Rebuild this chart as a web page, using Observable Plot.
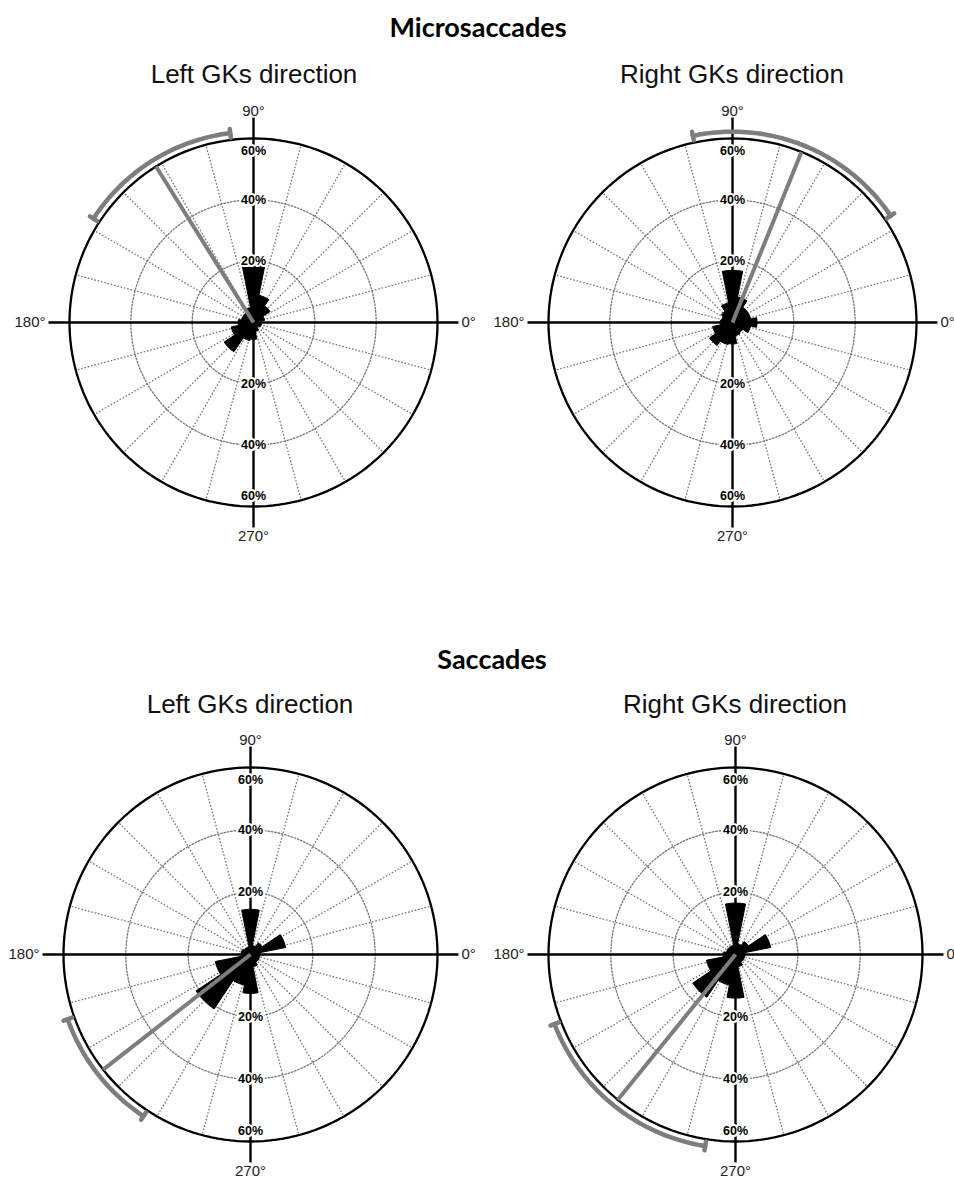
<!DOCTYPE html>
<html><head><meta charset="utf-8">
<script src="https://cdn.jsdelivr.net/npm/d3@7"></script>
<script src="https://cdn.jsdelivr.net/npm/@observablehq/plot@0.6"></script>
<style>
body{margin:0;background:#fff;}
#fig{position:relative;width:954px;height:1182px;overflow:hidden;background:#fff;}
.title{position:absolute;width:400px;text-align:center;font-family:Lato,sans-serif;font-weight:700;font-size:27px;line-height:1;color:#000;white-space:nowrap;}
.sub{position:absolute;width:400px;text-align:center;font-family:"Liberation Sans",Arial,sans-serif;font-size:26px;line-height:1;color:#111;white-space:nowrap;}
</style></head><body><div id="fig"></div>
<script>
// ---- data ----
const binAngles = [0, 22.5, 45, 67.5, 90, 112.5, 135, 157.5, 180, 202.5, 225, 247.5, 270, 292.5, 315, 337.5];
const microLeft  = [2.2, 3.7, 6.5, 9, 21.3, 5, 4, 4, 5, 7.4, 11.5, 6, 5.5, 3, 2, 2.6];
const microRight = [8, 6, 6, 8.5, 17, 6.5, 4.4, 3.6, 4, 6.6, 9, 7.3, 7, 4.4, 4, 6];
const saccLeft   = [3, 11.5, 4.5, 3, 14.5, 2.5, 2.5, 3, 3, 11.5, 21, 10, 12.5, 4, 3, 3];
const saccRight  = [3, 11.5, 5, 3.5, 16.5, 3, 3, 3, 4, 9.5, 16.5, 10, 14, 4, 3, 3];
const meanDirections = [122, 68, 218, 231];   // degrees
const meanSpreads    = [25, 34, 18.5, 30];    // half-width of arc, degrees
const groupTitles = ["Microsaccades", "Saccades"];
const panelTitles = ["Left GKs direction", "Right GKs direction"];
const radialTicks = [20, 40, 60];
const angleTicks = [0, 90, 180, 270];
const spokeStep = 15;

const fig = document.getElementById("fig");
const rad = a => a * Math.PI / 180;

function addText(cls, text, centerX, top) {
  const d = document.createElement("div");
  d.className = cls;
  d.textContent = text;
  d.style.left = (centerX - 200) + "px";
  d.style.top = top + "px";
  fig.appendChild(d);
}

function panel({values, mean, spread, cx, cy, r, top, bottom}) {
  const R = radialTicks[radialTicks.length - 1];
  const k = r / R;              // px per percent
  const W = 480, left = cx - W / 2, H = bottom - top;
  const circle = v => d3.range(0, 361, 2).map(a => ({x: v * Math.cos(rad(a)), y: v * Math.sin(rad(a))}));
  const gridCircles = radialTicks.slice(0, -1).flatMap(v => circle(v).map(p => ({...p, v})));
  const spokes = d3.range(0, 360, spokeStep).filter(a => a % 90 !== 0)
    .map(a => ({x2: R * Math.cos(rad(a)), y2: R * Math.sin(rad(a))}));
  const half = 360 / binAngles.length / 2;
  const wedges = values.flatMap((v, i) => {
    const pts = [{bin: i, x: 0, y: 0}];
    for (let j = 0; j <= 8; j++) {
      const a = rad(binAngles[i] - half + 2 * half * j / 8);
      pts.push({bin: i, x: v * Math.cos(a), y: v * Math.sin(a)});
    }
    pts.push({bin: i, x: 0, y: 0});
    return pts;
  });
  const arcR = R * 1.037;
  const arc = d3.range(mean - spread, mean + spread + 0.001, 1).map(a => ({x: arcR * Math.cos(rad(a)), y: arcR * Math.sin(rad(a))}));
  const caps = [mean - spread, mean + spread].map(a => ({
    x1: R * 1.012 * Math.cos(rad(a)), y1: R * 1.012 * Math.sin(rad(a)),
    x2: R * 1.06 * Math.cos(rad(a)), y2: R * 1.06 * Math.sin(rad(a))}));
  const ext = 21 / k;
  const lab = 24 / k;
  const tickLabels = angleTicks.map(a => ({a, t: a + "°"}));
  const rl = radialTicks.slice(0, -1).flatMap(v => [{y: v, t: v + "%"}, {y: -v, t: v + "%"}]);
  const font = "Liberation Sans, Arial, sans-serif";
  const svg = Plot.plot({
    width: W, height: H, margin: 0,
    x: {domain: [-(cx - left) / k, (left + W - cx) / k], axis: null},
    y: {domain: [-(bottom - cy) / k, (cy - top) / k], axis: null},
    style: {overflow: "visible", background: "transparent"},
    marks: [
      Plot.link(spokes, {x1: 0, y1: 0, x2: "x2", y2: "y2", stroke: "#777", strokeWidth: 1.3, strokeDasharray: "1.6,1.8"}),
      Plot.line(gridCircles, {x: "x", y: "y", z: "v", stroke: "#777", strokeWidth: 1.3, strokeDasharray: "1.6,1.8"}),
      Plot.line(circle(R), {x: "x", y: "y", stroke: "black", strokeWidth: 2.3}),
      Plot.link([{x1: -R - ext, y1: 0, x2: R + ext, y2: 0}, {x1: 0, y1: -R - ext, x2: 0, y2: R + ext}],
        {x1: "x1", y1: "y1", x2: "x2", y2: "y2", stroke: "black", strokeWidth: 2.4}),
      Plot.line(wedges, {x: "x", y: "y", z: "bin", fill: "black", stroke: "black", strokeWidth: 1, curve: "linear"}),
      Plot.link([{x2: R * Math.cos(rad(mean)), y2: R * Math.sin(rad(mean))}],
        {x1: 0, y1: 0, x2: "x2", y2: "y2", stroke: "#7d7d7d", strokeWidth: 4}),
      Plot.line(arc, {x: "x", y: "y", stroke: "#7d7d7d", strokeWidth: 4.5}),
      Plot.link(caps, {x1: "x1", y1: "y1", x2: "x2", y2: "y2", stroke: "#7d7d7d", strokeWidth: 4.5, strokeLinecap: "round"}),
      Plot.text(rl, {x: 0, y: "y", text: "t", fontSize: 12.5, fontWeight: "bold", fontFamily: font, fill: "black", stroke: "white", strokeWidth: 4}),
      Plot.text([{y: R, t: R + "%"}], {x: 0, y: "y", text: "t", dy: 12, fontSize: 12.5, fontWeight: "bold", fontFamily: font, fill: "black", stroke: "white", strokeWidth: 4}),
      Plot.text([{y: -R, t: R + "%"}], {x: 0, y: "y", text: "t", dy: -11, fontSize: 12.5, fontWeight: "bold", fontFamily: font, fill: "black", stroke: "white", strokeWidth: 4}),
      Plot.text(tickLabels.filter(d => d.a === 90), {x: 0, y: R + ext + 2 / k, text: "t", lineAnchor: "bottom", fontSize: 15, fontFamily: font, fill: "#222"}),
      Plot.text(tickLabels.filter(d => d.a === 270), {x: 0, y: -R - ext - 3 / k, text: "t", lineAnchor: "top", fontSize: 15, fontFamily: font, fill: "#222"}),
      Plot.text(tickLabels.filter(d => d.a === 180), {x: -R - lab, y: 0, text: "t", textAnchor: "end", fontSize: 15, fontFamily: font, fill: "#222"}),
      Plot.text(tickLabels.filter(d => d.a === 0), {x: R + lab, y: 0, text: "t", textAnchor: "start", fontSize: 15, fontFamily: font, fill: "#222"})
    ]
  });
  svg.style.position = "absolute";
  svg.style.left = left + "px";
  svg.style.top = top + "px";
  fig.appendChild(svg);
}

addText("title", groupTitles[0], 478, 13);
addText("title", groupTitles[1], 492, 645);
addText("sub", panelTitles[0], 254, 61);
addText("sub", panelTitles[1], 732, 61);
addText("sub", panelTitles[0], 250, 691);
addText("sub", panelTitles[1], 735, 691);

panel({values: microLeft,  mean: meanDirections[0], spread: meanSpreads[0], cx: 253, cy: 322, r: 184, top: 96,  bottom: 560});
panel({values: microRight, mean: meanDirections[1], spread: meanSpreads[1], cx: 732, cy: 322, r: 184, top: 96,  bottom: 560});
panel({values: saccLeft,   mean: meanDirections[2], spread: meanSpreads[2], cx: 250, cy: 954, r: 187, top: 724, bottom: 1182});
panel({values: saccRight,  mean: meanDirections[3], spread: meanSpreads[3], cx: 735, cy: 954, r: 187, top: 724, bottom: 1182});
</script></body></html>
